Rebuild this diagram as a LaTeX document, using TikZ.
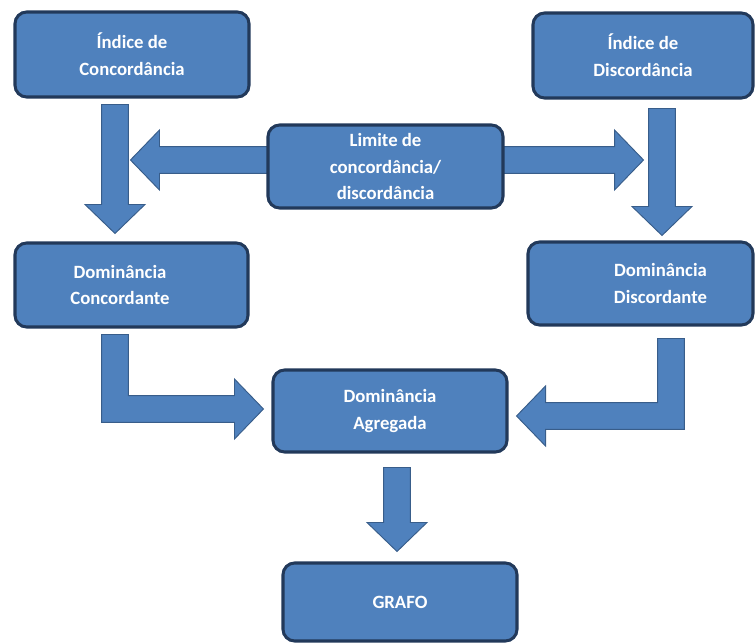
\documentclass[tikz,border=0pt]{standalone}
\usepackage{fontspec}
\setmainfont{Carlito}
\usetikzlibrary{positioning,calc,backgrounds}
\definecolor{boxblue}{HTML}{4F81BD}
\definecolor{boxline}{HTML}{22395A}
\definecolor{arrline}{HTML}{385D8A}
\tikzset{>=latex}

\newcommand{\shaftw}{0.4cm}
\newcommand{\headw}{0.9cm}
\newcommand{\headl}{0.87cm}
% block arrows: start point, tip point
\newcommand{\blkdown}[2]{%
  \path[blk] let \p1=#1, \p2=#2 in
    (\x1-\shaftw,\y1) -- (\x1+\shaftw,\y1) -- (\x1+\shaftw,\y2+\headl)
    -- (\x1+\headw,\y2+\headl) -- (\x1,\y2) -- (\x1-\headw,\y2+\headl)
    -- (\x1-\shaftw,\y2+\headl) -- cycle;}
\newcommand{\blkleft}[2]{%
  \path[blk] let \p1=#1, \p2=#2 in
    (\x1,\y1+\shaftw) -- (\x2+\headl,\y1+\shaftw) -- (\x2+\headl,\y1+\headw)
    -- (\x2,\y1) -- (\x2+\headl,\y1-\headw) -- (\x2+\headl,\y1-\shaftw)
    -- (\x1,\y1-\shaftw) -- cycle;}
\newcommand{\blkright}[2]{%
  \path[blk] let \p1=#1, \p2=#2 in
    (\x1,\y1+\shaftw) -- (\x2-\headl,\y1+\shaftw) -- (\x2-\headl,\y1+\headw)
    -- (\x2,\y1) -- (\x2-\headl,\y1-\headw) -- (\x2-\headl,\y1-\shaftw)
    -- (\x1,\y1-\shaftw) -- cycle;}
% elbow arrows: top of the vertical part, tip
\newcommand{\blkelbowr}[2]{%
  \path[blk] let \p1=#1, \p2=#2 in
    (\x1-\shaftw,\y1) -- (\x1+\shaftw,\y1) -- (\x1+\shaftw,\y2+\shaftw)
    -- (\x2-\headl,\y2+\shaftw) -- (\x2-\headl,\y2+\headw) -- (\x2,\y2)
    -- (\x2-\headl,\y2-\headw) -- (\x2-\headl,\y2-\shaftw)
    -- (\x1-\shaftw,\y2-\shaftw) -- cycle;}
\newcommand{\blkelbowl}[2]{%
  \path[blk] let \p1=#1, \p2=#2 in
    (\x1+\shaftw,\y1) -- (\x1-\shaftw,\y1) -- (\x1-\shaftw,\y2+\shaftw)
    -- (\x2+\headl,\y2+\shaftw) -- (\x2+\headl,\y2+\headw) -- (\x2,\y2)
    -- (\x2+\headl,\y2-\headw) -- (\x2+\headl,\y2-\shaftw)
    -- (\x1+\shaftw,\y2-\shaftw) -- cycle;}

\begin{document}
\begin{tikzpicture}[x=0.03cm, y=-0.03cm, align=center,
    box/.style={rectangle, rounded corners=0.35cm, draw=boxline, line width=2.6pt,
      fill=boxblue, text=white, font=\bfseries\fontsize{16}{23}\selectfont},
    blk/.style={fill=boxblue, draw=arrline, line width=0.8pt}]
    \useasboundingbox (0,0) rectangle (755,643);

    \node [box, minimum width=7.02cm, minimum height=2.55cm] (idxC) at (132,54.5) {Índice de\\Concordância};
    \node [box, minimum width=6.6cm, minimum height=2.55cm] (idxD) at (643,55.5) {Índice de\\Discordância};
    \node [box, minimum width=7.05cm, minimum height=2.49cm] (lim) at (385.5,166.5) {Limite de\\concordância/\\discordância};
    \node [box, minimum width=6.99cm, minimum height=2.52cm] (domC) at (131.5,285) {\hspace*{-0.69cm}Dominância\\\hspace*{-0.69cm}Concordante};
    \node [box, minimum width=6.75cm, minimum height=2.49cm] (domD) at (640.5,283.5) {\hspace*{1.2cm}Dominância\\\hspace*{1.2cm}Discordante};
    \node [box, minimum width=7.02cm, minimum height=2.46cm] (agr) at (390,411) {Dominância\\Agregada};
    \node [box, minimum width=7.02cm, minimum height=2.34cm] (graf) at (400,602) {GRAFO};

    \begin{scope}[on background layer]
    \blkdown{($(idxC.south)+(-17,6)$)}{($(domC.north)+(-16.5,-8)$)}
    \blkdown{($(idxD.south)+(19,9)$)}{($(domD.north)+(21.5,-5)$)}
    \blkleft{($(lim.west)+(4,-6.5)$)}{($(lim.west)+(-136,-6.5)$)}
    \blkright{($(lim.east)+(-4,-6.5)$)}{($(lim.east)+(139,-6.5)$)}
    \blkelbowr{($(domC.south)+(-16.5,6)$)}{($(agr.west)+(-8,-2)$)}
    \blkelbowl{($(domD.south)+(30.5,12)$)}{($(agr.east)+(8,5)$)}
    \blkdown{($(agr.south)+(7,14)$)}{($(graf.north)+(-3,-10)$)}
    \end{scope}
\end{tikzpicture}
\end{document}
